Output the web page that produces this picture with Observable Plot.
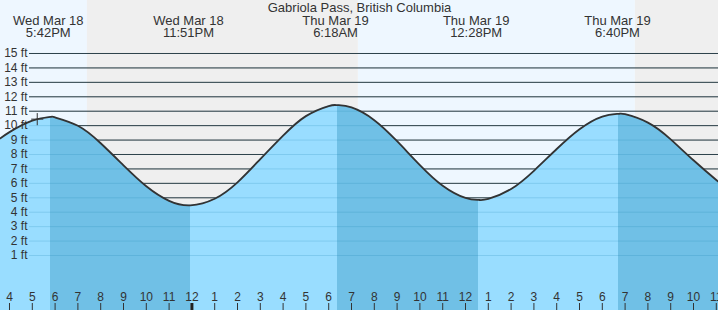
<!DOCTYPE html>
<html>
<head>
<meta charset="utf-8">
<script src="https://cdn.jsdelivr.net/npm/d3@7"></script>
<script src="https://cdn.jsdelivr.net/npm/@observablehq/plot@0.6"></script>
<style>
  html, body { margin: 0; padding: 0; background: #fff; overflow: hidden; }
</style>
</head>
<body>
<div id="chart"></div>
<script>
// ---------- data ----------
const chartTitle = "Gabriola Pass, British Columbia";

// tide height (feet): hourly, plus the drawn turning points
const tideTimes = [
  "2026-03-18T15:36", "2026-03-18T16:00", "2026-03-18T17:00", "2026-03-18T17:48",
  "2026-03-18T18:00", "2026-03-18T19:00", "2026-03-18T20:00", "2026-03-18T21:00",
  "2026-03-18T22:00", "2026-03-18T23:00", "2026-03-18T23:56",
  "2026-03-19T01:00", "2026-03-19T02:00", "2026-03-19T03:00", "2026-03-19T04:00",
  "2026-03-19T05:00", "2026-03-19T06:00", "2026-03-19T06:23",
  "2026-03-19T07:00", "2026-03-19T08:00", "2026-03-19T09:00", "2026-03-19T10:00",
  "2026-03-19T11:00", "2026-03-19T12:00", "2026-03-19T12:34",
  "2026-03-19T13:00", "2026-03-19T14:00", "2026-03-19T15:00", "2026-03-19T16:00",
  "2026-03-19T17:00", "2026-03-19T18:00", "2026-03-19T18:43",
  "2026-03-19T19:00", "2026-03-19T20:00", "2026-03-19T21:00", "2026-03-19T22:00",
  "2026-03-19T23:00", "2026-03-19T23:06"
];
const tideFeet = [
  9.12, 9.55, 10.35, 10.6,
  10.57, 9.99, 8.78, 7.25,
  5.80, 4.79, 4.48,
  4.93, 6.07, 7.68, 9.31,
  10.66, 11.36, 11.42,
  11.26, 10.38, 8.92, 7.27,
  5.84, 4.99, 4.85,
  4.92, 5.61, 6.87, 8.38,
  9.75, 10.63, 10.82,
  10.79, 10.21, 9.05, 7.60,
  6.23, 6.11
];

// labelled high / low tides
const extremeAt    = ["2026-03-18T17:42", "2026-03-18T23:51", "2026-03-19T06:18", "2026-03-19T12:28", "2026-03-19T18:40"];
const extremeDay   = ["Wed Mar 18", "Wed Mar 18", "Thu Mar 19", "Thu Mar 19", "Thu Mar 19"];
const extremeClock = ["5:42PM", "11:51PM", "6:18AM", "12:28PM", "6:40PM"];

// sun: sunset, sunrise, sunset
const sunEvents = ["2026-03-18T19:25", "2026-03-19T07:18", "2026-03-19T19:27"];

// current-time marker
const nowTime = "2026-03-18T17:13";
const nowFeet = 10.45;

// y tick values
const feetTicks = [1, 2, 3, 4, 5, 6, 7, 8, 9, 10, 11, 12, 13, 14, 15];

// visible time window
const viewStart = "2026-03-18T15:36:19";
const viewEnd   = "2026-03-19T23:05:46";

// ---------- build ----------
const D = s => new Date(s + "Z");
const W = 718, H = 310;
const xDomain = [D(viewStart), D(viewEnd)];
const yDomain = [-2.812, 18.673];

const readings = tideTimes.map((t, i) => ({time: D(t), ft: tideFeet[i]}));
const extremes = extremeAt.map((t, i) => ({at: D(t), day: extremeDay[i], clock: extremeClock[i]}));

// sky bands
const sunDates = sunEvents.map(D);
const skyEdges = [xDomain[0], ...sunDates, xDomain[1]];
const skyBands = d3.pairs(skyEdges).map(([a, b], i) => ({start: a, end: b, day: i % 2 === 0}));

// hour ticks
const hours = d3.utcHour.range(xDomain[0], xDomain[1]);
const midnights = hours.filter(d => d.getUTCHours() === 0);

// rising / falling segments from the readings' local extremes
const turn = [];
for (let i = 1; i < readings.length - 1; ++i) {
  const a = readings[i - 1].ft, b = readings[i].ft, c = readings[i + 1].ft;
  if (b > a && b > c) turn.push({time: readings[i].time, high: true});
  else if (b < a && b < c) turn.push({time: readings[i].time, high: false});
}
const LIGHT = "#99ddff", DARK = "#70c0e6";
const segEdges = [xDomain[0], ...turn.map(d => d.time), xDomain[1]];
const segments = d3.pairs(segEdges).map(([a, b], i) => {
  const falling = i === 0 ? !turn[0].high : turn[i - 1].high;
  return {start: a, end: b, color: falling ? DARK : LIGHT};
});
const xs = Plot.scale({x: {type: "utc", domain: xDomain, range: [0, W]}});
const frac = d => Math.max(0, Math.min(1, xs.apply(d) / W));

const font = "'Liberation Sans', Arial, Helvetica, sans-serif";
const CURVE = "natural";

const svg = Plot.plot({
  width: W,
  height: H,
  margin: 0,
  x: {type: "utc", domain: xDomain, axis: null},
  y: {domain: yDomain, axis: null},
  style: {fontFamily: font, background: "transparent", overflow: "hidden"},
  marks: [
    Plot.rect(skyBands.filter(d => d.day), {x1: "start", x2: "end", fill: "#eef7ff"}),
    Plot.rect(skyBands.filter(d => !d.day), {x1: "start", x2: "end", fill: "#efefef"}),
    Plot.ruleY(feetTicks, {y: d => d, stroke: "#333", strokeWidth: 1, insetLeft: 29}),
    Plot.areaY(readings, {x: "time", y1: yDomain[0], y2: "ft", curve: CURVE, fill: "url(#water-fill)"}),
    Plot.ruleY(feetTicks, {y: d => d, stroke: "#1a84b0", strokeOpacity: 0.2, strokeWidth: 1, insetLeft: 29}),
    Plot.line(readings, {x: "time", y: "ft", curve: CURVE, stroke: "#333", strokeWidth: 1.8}),
    Plot.ruleX(hours, {x: d => d, stroke: "#333", strokeWidth: 1, insetTop: 303}),
    Plot.ruleX(midnights, {x: d => d, stroke: "#222", strokeWidth: 3, insetTop: 303}),
    Plot.text(hours, {x: d => d, text: d => String(d.getUTCHours() % 12 || 12), frameAnchor: "bottom", lineAnchor: "bottom", dy: -10, fontSize: 12, fill: "#333"}),
    Plot.text(feetTicks, {y: d => d, text: d => `${d} ft`, frameAnchor: "left", dx: 27, textAnchor: "end", fontSize: 12, fill: "#333"}),
    Plot.text(extremes, {x: "at", text: d => `${d.day}\n${d.clock}`, frameAnchor: "top", lineAnchor: "top", dy: 15.5, lineHeight: 0.923, fontSize: 13, fill: "#333"}),
    Plot.text([chartTitle], {text: d => d, frameAnchor: "top", lineAnchor: "top", dy: 2.3, fontSize: 13, fill: "#333"}),
    Plot.dot([{t: D(nowTime), ft: nowFeet}], {x: "t", y: "ft", symbol: "plus", r: 4, stroke: "#333", strokeWidth: 1})
  ]
});

// horizontal gradient giving the rising (light) / falling (dark) water colours
const defs = d3.select(svg).insert("defs", ":first-child");
const lg = defs.append("linearGradient")
  .attr("id", "water-fill")
  .attr("gradientUnits", "userSpaceOnUse")
  .attr("x1", 0).attr("x2", W).attr("y1", 0).attr("y2", 0);
segments.forEach(s => {
  lg.append("stop").attr("offset", frac(s.start)).attr("stop-color", s.color);
  lg.append("stop").attr("offset", frac(s.end)).attr("stop-color", s.color);
});

document.getElementById("chart").appendChild(svg);
</script>
</body>
</html>
